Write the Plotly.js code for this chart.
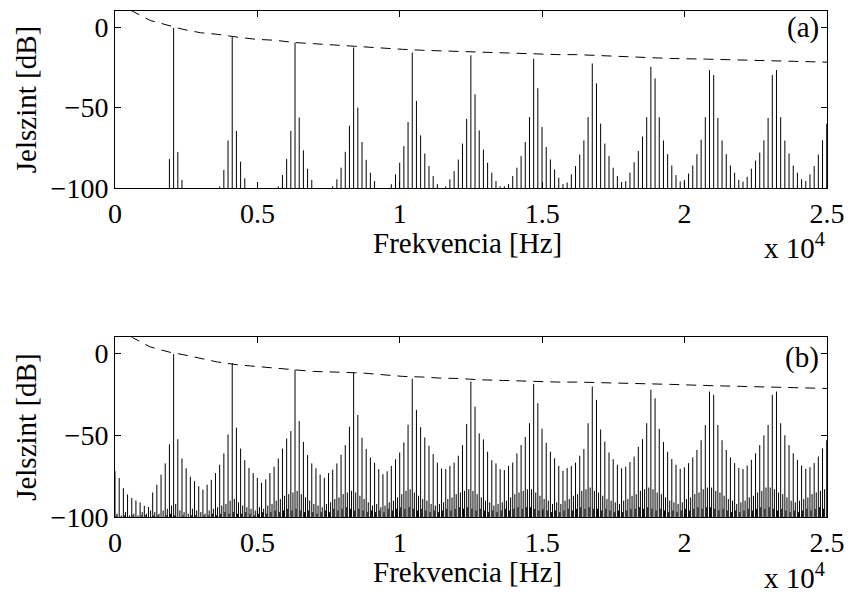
<!DOCTYPE html>
<html><head><meta charset="utf-8">
<script src="https://cdn.plot.ly/plotly-3.0.1.min.js"></script>
<style>html,body{margin:0;padding:0;background:#fff}</style>
</head><body><div id="chart" style="width:851px;height:593px"></div>
<script>
// DFT bin width (Hz)
const binHz = 147;
// (a) spectrum level per bin, dB
const specA = [
-100,-100,-100,-100,-100,-100,-100,-100,-100,-100,
-100,-100,-100,-82,-0.5,-77.6,-95,-100,-100,-100,
-100,-100,-100,-100,-100,-99,-88.8,-70.5,-6.2,-64.5,
-83.6,-94,-100,-100,-100,-100,-100,-100,-100,-99,
-91.9,-82,-64.5,-9.6,-56.2,-76.6,-88,-95,-100,-100,
-100,-100,-99,-94.6,-87.4,-77.5,-61.3,-12.7,-50,-71.4,
-82.5,-90.5,-95.7,-100,-100,-100,-97.6,-91.5,-84.3,-74,
-59,-15.8,-45.9,-67.3,-78.6,-86.4,-92.6,-97.6,-100,-99,
-94.6,-89.5,-82.3,-72.4,-57,-17.5,-41.7,-64.2,-76.1,-84.3,
-90.5,-95.7,-99,-99,-97.6,-92.6,-87.4,-80.2,-71.4,-55.9,
-19.7,-38,-62.1,-74.5,-82.3,-88.5,-93.6,-97.6,-96.6,-91.5,
-86.4,-79.2,-70.4,-55.9,-22.6,-34.9,-60,-72.4,-80.2,-87.4,
-92.6,-96.3,-95.7,-90.5,-84,-77,-68,-56,-24.7,-31.9,
-56,-70.5,-79,-86,-92,-96,-95,-91,-86,-79,
-70,-56,-26.7,-29.8,-56.5,-70.5,-79,-86,-90.5,-95,
-96,-93,-88,-83,-78,-70.4,-56.5,-29.8,-26.7,-56,
-70.5,-78.5,-86,-90.5,-94.6,-95.7,-91.5,-86.4,-79.2,-70.4,
-60];
// (b) spectrum level per bin, dB
const specB = [
-72,-76.1,-82.2,-86.2,-88.3,-89.9,-91.1,-93.1,-93.9,-85,
-80.2,-74.1,-67.2,-55.5,-0.3,-52.4,-64.2,-70.2,-75.3,-78.1,
-81.2,-83.2,-80.2,-77.3,-73.1,-68,-61.1,-49.4,-5.7,-45.3,
-58.1,-65.2,-70,-73.1,-76.1,-79,-77,-73.1,-69.2,-64.2,
-58.1,-52,-47.4,-9.8,-41.3,-54,-62.1,-67.2,-70.2,-74,
-76,-73.1,-71,-67.2,-61.9,-56,-44.7,-11.9,-37.5,-51.5,
-58.4,-63.6,-66.8,-70.7,-73.8,-72,-68.7,-64.6,-60.5,-54.3,
-43.5,-15.4,-34.4,-45,-51.3,-56.4,-61.5,-66.7,-70.3,-70.7,
-68.7,-66.7,-62.5,-56,-43,-17,-32.4,-48.8,-52.5,-60,
-65.2,-67.2,-70.7,-71.3,-68.7,-66.7,-61.1,-56,-51,-42.6,
-18.5,-30.3,-46,-54.6,-60,-64,-68.7,-71.7,-70,-68.7,
-66.7,-62.5,-58.4,-42.6,-20.1,-28.3,-46.4,-53.8,-60.5,-64.6,
-68,-70.2,-69.2,-66.4,-63,-57,-52.4,-42.6,-22.1,-27.3,
-46,-54,-60,-64.5,-68,-70.5,-69.6,-67,-63.5,-59,
-53,-43.7,-23.2,-25.2,-43.7,-53,-59,-63.5,-67,-70,
-70.6,-68.5,-65,-61,-56,-50,-43.7,-25.2,-23.2,-42.6,
-50,-56,-61,-65,-68.5,-70.5,-69.5,-67,-63,-58,
-53];
// (b) levels at the half-bin positions (noise floor), dB
const specBMid = [
-98,-99,-97,-99,-98,-99,-97,-98,-96,-97,
-98,-96,-95,-93,-92,-96,-97,-98,-95,-96,
-97,-98,-96,-95,-94,-93,-92,-90,-89,-91,
-93,-94,-95,-96,-94,-95,-93,-92,-90,-89,
-87,-86,-85,-84,-86,-88,-90,-92,-93,-94,
-92,-91,-89,-88,-86,-85,-84,-85,-87,-89,
-91,-93,-92,-94,-93,-91,-90,-88,-86,-84,
-83,-85,-87,-89,-90,-92,-93,-92,-91,-89,
-88,-86,-85,-84,-83,-84,-86,-88,-90,-91,
-93,-92,-91,-90,-88,-86,-85,-84,-83,-83,
-85,-87,-89,-90,-92,-91,-92,-90,-89,-87,
-86,-84,-83,-82,-84,-85,-87,-89,-90,-91,
-92,-90,-89,-87,-86,-84,-83,-82,-83,-85,
-86,-88,-90,-91,-92,-91,-89,-88,-86,-85,
-83,-82,-82,-84,-85,-87,-89,-90,-92,-91,
-90,-88,-87,-85,-84,-82,-82,-83,-85,-86,
-88,-90,-91,-90,-89,-88,-86,-85,-84,-83];
// (b) low floor at quarter-bin positions, dB
const specBLow = [
-99,-100,-99,-100,-99,-100,-99,-99,-100,-99,
-99,-100,-99,-98,-99,-100,-99,-100,-99,-99,
-100,-99,-99,-98,-99,-98,-97,-98,-97,-98,
-98,-97,-98,-99,-98,-97,-98,-97,-96,-97,
-96,-95,-96,-95,-96,-97,-96,-97,-98,-97,
-96,-97,-95,-96,-95,-94,-95,-96,-95,-96,
-97,-96,-97,-96,-97,-95,-96,-95,-94,-95,
-94,-95,-96,-95,-96,-97,-96,-97,-96,-95,
-96,-95,-94,-95,-94,-95,-96,-95,-96,-97,
-96,-97,-96,-95,-96,-95,-94,-95,-94,-94,
-95,-96,-95,-96,-97,-96,-97,-96,-95,-96,
-95,-94,-95,-94,-95,-95,-96,-95,-96,-97,
-96,-97,-96,-95,-95,-94,-95,-94,-95,-96,
-95,-96,-97,-96,-97,-96,-95,-96,-95,-94,
-95,-94,-94,-95,-96,-95,-96,-97,-96,-97,
-96,-95,-96,-95,-94,-95,-94,-95,-96,-95,
-96,-97,-96,-97,-96,-95,-96,-95,-94,-95];
// dashed envelope
const envFreq = [0,600,1240,1940,2390,3000,3600,4280,4960,5630,6300,6970,7800,8720,9400,10090,10790,11460,12090,12800,13640,14440,15560,16200,17220,18300,19500,20730,22060,23470,25000];
const envA = [15,10,4.1,1,-1.4,-3.5,-4.5,-6.2,-7.6,-8.2,-9.6,-10.3,-11.3,-12.3,-13,-13.8,-14.4,-14.8,-15.4,-15.4,-16,-16.4,-17.1,-17.1,-17.9,-18.5,-19.5,-19.9,-20.6,-21.2,-21.8];
const envB = [15,10,4.1,0.8,-0.6,-3.1,-5.1,-6.8,-7.8,-8.8,-9.8,-10.9,-11.3,-11.9,-12.9,-13.9,-14.3,-15,-15.2,-16,-16.4,-17,-17.4,-17.4,-17.7,-18,-18.8,-19.5,-20.1,-20.7,-21.3];
const xTickVals = [0,5000,10000,15000,20000,25000];
const xTickText = ['0','0.5','1','1.5','2','2.5'];
const yTickVals = [-100,-50,0];
const yTickText = ['\u2212100','\u221250','0'];
const yBase = -100;

function stemXY(freqs, vals){
  const x=[], y=[];
  for(let i=0;i<vals.length;i++){ x.push(freqs[i],freqs[i],null); y.push(yBase,vals[i],null); }
  return {x,y};
}
const fA = specA.map((_,k)=>k*binHz);
const fB = specB.map((_,k)=>k*binHz);
const fBm = specBMid.map((_,k)=>(k+0.5)*binHz);
const fBl = specBLow.map((_,k)=>(k+0.25)*binHz);
const sA = stemXY(fA, specA);
const sB1 = stemXY(fB, specB);
const sB2 = stemXY(fBm, specBMid);
const sB3 = stemXY(fBl, specBLow);

const FONT = 'Liberation Serif';
const FS = 28;
const FT = 29;
const lineStyle = {color:'#000', width:1};
const dashStyle = {color:'#000', width:1, dash:'10px,7px'};
const traces = [
  {x:sB3.x, y:sB3.y, xaxis:'x2', yaxis:'y2', mode:'lines', line:lineStyle, hoverinfo:'skip', showlegend:false},
  {x:sB2.x, y:sB2.y, xaxis:'x2', yaxis:'y2', mode:'lines', line:lineStyle, hoverinfo:'skip', showlegend:false},
  {x:sB1.x, y:sB1.y, xaxis:'x2', yaxis:'y2', mode:'lines', line:lineStyle, hoverinfo:'skip', showlegend:false},
  {x:envFreq, y:envB, xaxis:'x2', yaxis:'y2', mode:'lines', line:dashStyle, showlegend:false},
  {x:sA.x, y:sA.y, xaxis:'x', yaxis:'y', mode:'lines', line:lineStyle, hoverinfo:'skip', showlegend:false},
  {x:envFreq, y:envA, xaxis:'x', yaxis:'y', mode:'lines', line:dashStyle, showlegend:false}
];
function xax(anchor){
  return {anchor, domain:[0,1], range:[0,25000], tickvals:xTickVals, ticktext:xTickText,
    ticks:'inside', ticklen:6, tickwidth:1, tickcolor:'#000', showline:true, linecolor:'#000', linewidth:1,
    mirror:'ticks', zeroline:false, showgrid:false, tickfont:{family:FONT,size:FS,color:'#000'}};
}
function yax(anchor, dom){
  return {anchor, domain:dom, range:[-100,10], tickvals:yTickVals, ticktext:yTickText,
    ticks:'inside', ticklen:6, tickwidth:1, tickcolor:'#000', showline:true, linecolor:'#000', linewidth:1,
    mirror:'ticks', zeroline:false, showgrid:false, tickfont:{family:FONT,size:FS,color:'#000'},
    title:{text:'Jelszint [dB]', font:{family:FONT,size:FT,color:'#000'}, standoff:5}};
}
function ann(text, xr, yr, x, y, xa, ya){
  return {text, xref:xr, yref:yr, x, y, xanchor:xa, yanchor:ya, showarrow:false, font:{family:FONT,size:FT,color:'#000'}};
}
const layout = {
  width:851, height:593, margin:{l:115, r:24, t:11, b:76},
  paper_bgcolor:'#fff', plot_bgcolor:'#fff', showlegend:false,
  font:{family:FONT, size:FS, color:'#000'},
  xaxis:xax('y'), yaxis:yax('x',[0.6502,1]),
  xaxis2:xax('y2'), yaxis2:yax('x2',[0,0.3551]),
  annotations:[
    ann('Frekvencia [Hz]', 'x domain', 'y domain', 0.495, -0.312, 'center', 'middle'),
    ann('Frekvencia [Hz]', 'x2 domain', 'y2 domain', 0.495, -0.307, 'center', 'middle'),
    ann('(a)', 'x domain', 'y domain', 0.992, 0.905, 'right', 'middle'),
    ann('(b)', 'x2 domain', 'y2 domain', 0.992, 0.89, 'right', 'middle'),
    ann('x 10<sup>4</sup>', 'x domain', 'y domain', 1.0, -0.327, 'right', 'middle'),
    ann('x 10<sup>4</sup>', 'x2 domain', 'y2 domain', 1.0, -0.328, 'right', 'middle')
  ]
};
Plotly.newPlot('chart', traces, layout, {staticPlot:true, displayModeBar:false});
</script></body></html>
